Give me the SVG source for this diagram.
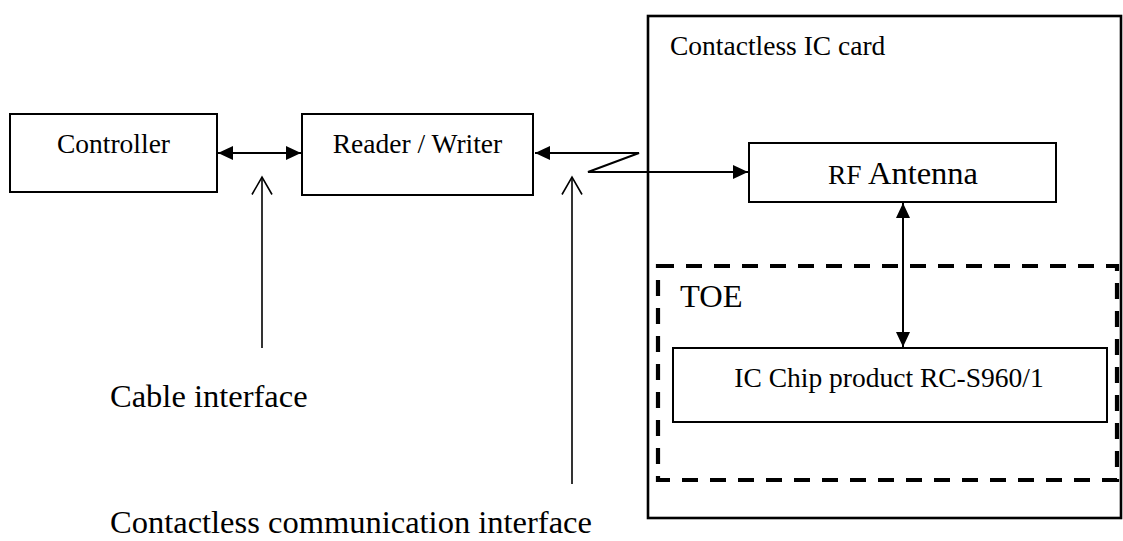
<svg xmlns="http://www.w3.org/2000/svg" width="1123" height="541" viewBox="0 0 1123 541">
<style>
.box{fill:#fff;stroke:#000;stroke-width:2}
.card{fill:#fff;stroke:#000;stroke-width:2.6}
.toe{fill:none;stroke:#000;stroke-width:4.2;stroke-dasharray:16 12}
.lbl{font-family:"Liberation Serif","Times New Roman",serif;font-size:27.5px;fill:#000}
.big{font-family:"Liberation Serif","Times New Roman",serif;font-size:32.5px;fill:#000}
.conn{fill:none;stroke:#000;stroke-width:2}
.thin{fill:none;stroke:#000;stroke-width:1.6}
</style>
<defs>
<marker id="fa" markerUnits="userSpaceOnUse" markerWidth="16" markerHeight="15" refX="15" refY="7" orient="auto-start-reverse">
<path d="M0,0 L15,7 L0,14 z" fill="#000"/>
</marker>
<marker id="oa" markerUnits="userSpaceOnUse" markerWidth="22" markerHeight="24" refX="18.5" refY="11" orient="auto">
<path d="M1,1 L18.5,11 L1,21" fill="none" stroke="#000" stroke-width="1.6"/>
</marker>
</defs>
<g id="card">
<rect class="card" x="648" y="16" width="473" height="502"/>
<text class="lbl" x="670" y="55">Contactless IC card</text>
</g>
<g id="toe">
<rect class="toe" x="658" y="266" width="459" height="214"/>
<text class="big" x="680" y="307">TOE</text>
</g>
<g id="controller">
<rect class="box" x="10" y="114" width="207" height="78"/>
<text class="lbl" x="113.5" y="153" text-anchor="middle">Controller</text>
</g>
<g id="reader-writer">
<rect class="box" x="302" y="114" width="231" height="81"/>
<text class="lbl" x="417.5" y="153" text-anchor="middle">Reader / Writer</text>
</g>
<g id="rf-antenna">
<rect class="box" x="749" y="143" width="307" height="59"/>
<text x="903" y="184" text-anchor="middle"><tspan class="lbl">RF</tspan><tspan class="big"> Antenna</tspan></text>
</g>
<g id="ic-chip">
<rect class="box" x="673" y="348" width="434" height="74"/>
<text class="lbl" x="889" y="387" text-anchor="middle">IC Chip product RC-S960/1</text>
</g>
<g id="cable-label">
<text class="big" x="110" y="407">Cable interface</text>
</g>
<g id="contactless-label">
<text class="big" x="110" y="533">Contactless communication interface</text>
</g>
<g id="connectors">
<line class="conn" x1="218" y1="153" x2="301" y2="153" marker-start="url(#fa)" marker-end="url(#fa)"/>
<path class="conn" d="M535,153 L639,153 L588,172 L748,172" marker-start="url(#fa)" marker-end="url(#fa)"/>
<line class="conn" x1="903" y1="203" x2="903" y2="347" marker-start="url(#fa)" marker-end="url(#fa)"/>
<line class="thin" x1="262" y1="348" x2="262" y2="177" marker-end="url(#oa)"/>
<line class="thin" x1="572" y1="484" x2="572" y2="177" marker-end="url(#oa)"/>
</g>
</svg>
